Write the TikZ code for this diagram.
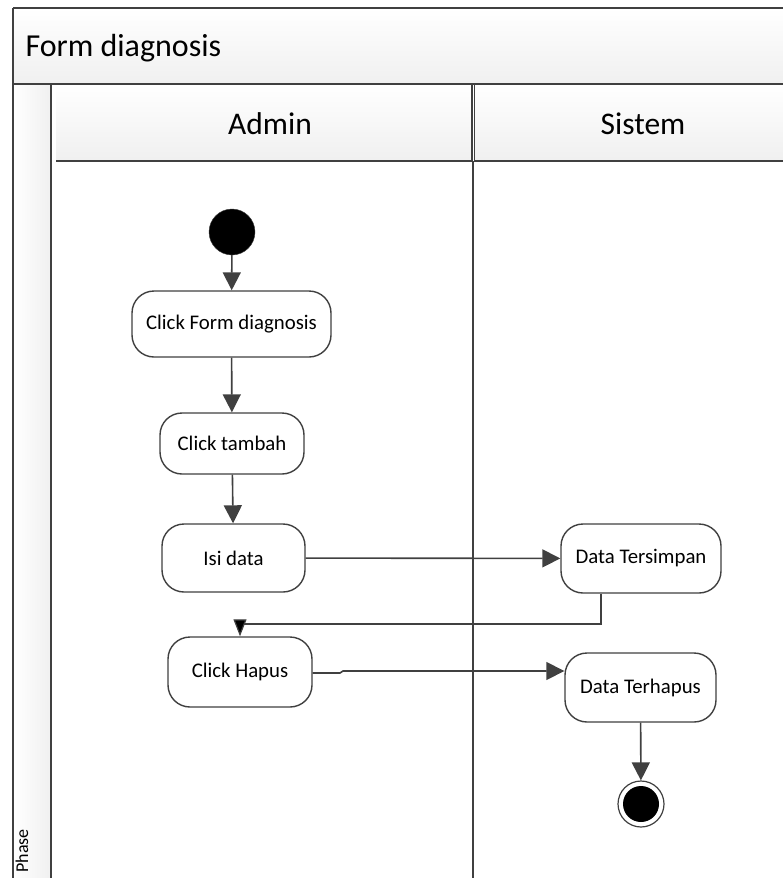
\documentclass[tikz,border=0pt]{standalone}
\usepackage{fontspec}
\setmainfont{Carlito}
\usetikzlibrary{arrows.meta,positioning,calc}
\definecolor{linec}{HTML}{404040}
\tikzset{
  act/.style={draw=linec, line width=1.4pt, rounded corners=22pt, fill=white, font=\fontsize{20.8}{24}\selectfont, inner sep=0pt},
  conn/.style={draw=linec, line width=1.6pt, -{Triangle[length=18pt,width=18pt,fill=linec]}},
  conn2/.style={draw=linec, line width=1.2pt, -{Triangle[length=17pt,width=13pt,fill=black]}},
  frame/.style={draw=linec, line width=1.2pt},
  hdr/.style={font=\fontsize{31.5}{36}\selectfont}
}
\begin{document}
\begin{tikzpicture}[x=1pt,y=-1pt]
\useasboundingbox (0,0) rectangle (783,878);
\clip (0,0) rectangle (783,878);
% title band
\shade[top color=white,bottom color=gray!12] (13,8) rectangle (800,84);
\draw[frame] (13,8) -- (800,8);
\draw[frame] (13,8) -- (13,84);
\draw[frame] (13,84) -- (800,84);
\node[hdr, font=\fontsize{32}{36}\selectfont, anchor=west] (title) at (22,48) {Form diagnosis};
% narrow phase column
\shade[left color=white,right color=gray!12] (13,84) rectangle (51,900);
\draw[frame] (13,84) rectangle (51,900);
\node[rotate=90, font=\fontsize{18}{20}\selectfont] (phase) at (22,851) {Phase};
% headers
\shade[top color=white,bottom color=gray!12] (56,84) rectangle (472,161);
\shade[top color=white,bottom color=gray!12] (474.5,84) rectangle (800,161);
\draw[frame] (56,84) -- (472,84) -- (472,161) -- (56,161);
\draw[frame] (800,84) -- (474.5,84) -- (474.5,161) -- (800,161);
\node[hdr] (admin) at (270,124) {Admin};
\node[hdr] (sistem) at (643,124) {Sistem};
% lane divider
\draw[frame] (473,161) -- (473,900);
% nodes
\node[circle, fill=black, draw=linec, minimum size=46pt, inner sep=0pt] (start) at (232,232) {};
\node[act, minimum width=199pt, minimum height=66pt] (a1) at (231.5,324) {Click Form diagnosis};
\node[act, minimum width=144pt, minimum height=61pt] (a2) at (232,443.5) {Click tambah};
\node[act, minimum width=143pt, minimum height=68pt] (a3) at (233.5,558) {Isi data};
\node[act, minimum width=160pt, minimum height=69pt] (b1) at (641,558.5) {Data Tersimpan};
\node[act, minimum width=144pt, minimum height=70pt] (a4) at (240,672) {Click Hapus};
\node[act, minimum width=151pt, minimum height=69pt] (b2) at (640.5,687.5) {Data Terhapus};
\node[circle, draw=linec, line width=1.2pt, fill=white, minimum size=46pt, inner sep=0pt] (end) at (641,804) {};
\node[circle, fill=black, minimum size=36pt, inner sep=0pt] (endin) at (641,804) {};
% connectors
\draw[conn] (start) -- (a1);
\draw[conn] (a1) -- (a2);
\draw[conn] (a2) -- (a3);
\draw[conn] (a3) -- (b1);
\coordinate (turn) at (601,624);
\draw[conn2] (b1.south -| turn) -- (turn) -| (a4.north);
\coordinate (k1) at (340,673);
\coordinate (k2) at (343,671);
\draw[conn] (a4.east |- k1) -- (k1) -- (k2) -- (k2 -| b2.west);
\draw[conn] (b2) -- (end);
\end{tikzpicture}
\end{document}
